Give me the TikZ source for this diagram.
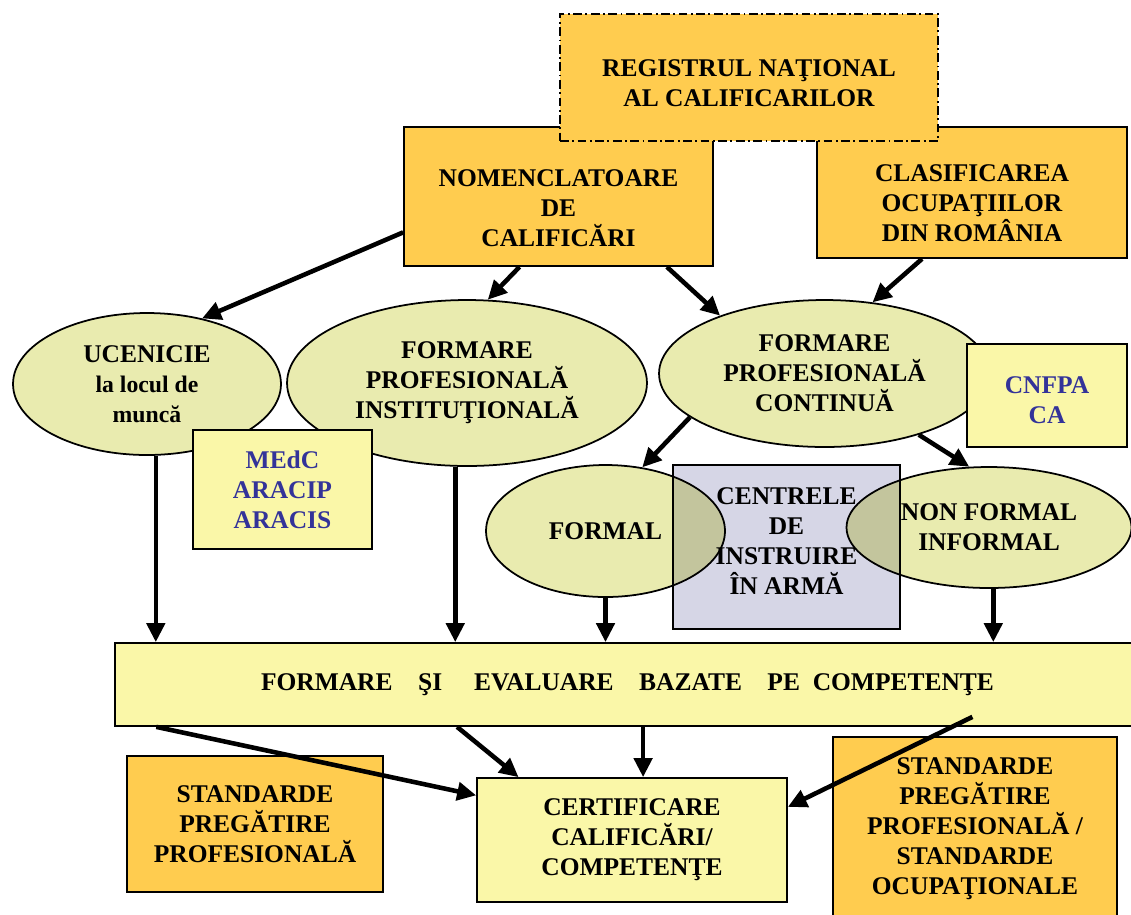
\documentclass[tikz,border=0pt]{standalone}
\usepackage{fontspec}
\setmainfont{Liberation Serif}
\usetikzlibrary{arrows.meta,shapes,calc}

\definecolor{gold}{HTML}{FFCC4F}
\definecolor{paleyel}{HTML}{FAF7A8}
\definecolor{olive}{HTML}{E9EBAF}
\definecolor{lilac}{HTML}{D6D6E6}
\definecolor{navy}{HTML}{333399}

\tikzset{
	txt/.style={align=center, font=\fontsize{14.5}{17}\selectfont\bfseries},
	box/.style={txt, draw, line width=1pt, inner sep=0pt},
	goldbox/.style={box, fill=gold},
	palebox/.style={box, fill=paleyel},
	oval/.style={box, ellipse, fill=olive},
	arr/.style={->, >={Triangle[length=0.38cm, width=0.36cm]}, line width=2.6pt},
}

\begin{document}
\begin{tikzpicture}[x=0.02cm, y=-0.02cm]
		\useasboundingbox (0,0) rectangle (1131,914);

		% top row
		\node[goldbox, minimum width=6.18cm, minimum height=2.78cm,
			label={[txt, yshift=-0.23cm]center:NOMENCLATOARE\\DE\\CALIFICĂRI}] (nom) at (558.5,196.5) {};
		\node[goldbox, minimum width=6.2cm, minimum height=2.62cm,
			label={[txt, yshift=-0.21cm]center:CLASIFICAREA\\OCUPAŢIILOR\\DIN ROMÂNIA}] (clas) at (972,192.5) {};
		\node[goldbox, dash pattern=on 5pt off 2pt on 1pt off 2pt, minimum width=7.56cm, minimum height=2.54cm,
			label={[txt, yshift=-0.12cm]center:REGISTRUL NAŢIONAL\\AL CALIFICARILOR}] (reg) at (749,77.5) {};

		% forms of training
		\node[oval, minimum width=5.36cm, minimum height=2.84cm] (ucen) at (147,384) {UCENICIE\\{\fontsize{13.5}{16}\selectfont la locul de}\\{\fontsize{13.5}{16}\selectfont muncă}};
		\node[oval, minimum width=7.2cm, minimum height=3.32cm] (inst) at (467,383) {FORMARE\\PROFESIONALĂ\\INSTITUŢIONALĂ};
		\node[oval, minimum width=6.62cm, minimum height=2.94cm] (cont) at (824.5,373.5) {FORMARE\\PROFESIONALĂ\\CONTINUĂ};
		\node[palebox, text=navy, minimum width=3.2cm, minimum height=2.06cm,
			label={[txt, text=navy, yshift=-0.1cm]center:CNFPA\\CA}] (cnfpa) at (1047,395.5) {};
		\node[palebox, text=navy, minimum width=3.58cm, minimum height=2.38cm] (medc) at (282.5,489.5) {MEdC\\ARACIP\\ARACIS};

		\node[box, fill=lilac, minimum width=4.54cm, minimum height=3.28cm,
			label={[txt, yshift=0.12cm]center:CENTRELE\\DE\\INSTRUIRE\\ÎN ARMĂ}] (centr) at (786.5,547) {};
		\node[oval, blend mode=multiply, minimum width=4.78cm, minimum height=2.64cm] (formal) at (605.5,531) {FORMAL};
		\node[oval, blend mode=multiply, minimum width=5.7cm, minimum height=2.42cm] (nonf) at (989,527.5) {NON FORMAL\\INFORMAL};

		% bottom
		\node[palebox, minimum width=20.5cm, minimum height=1.66cm] (fev) at (627.5,684.5) {FORMARE\quad ŞI\quad\ EVALUARE\quad BAZATE\quad PE\ \ COMPETENŢE};
		\node[goldbox, minimum width=5.12cm, minimum height=2.72cm] (stdl) at (255,824) {STANDARDE\\PREGĂTIRE\\PROFESIONALĂ};
		\node[goldbox, minimum width=5.68cm, minimum height=3.66cm] (stdr) at (975,828.5) {STANDARDE\\PREGĂTIRE\\PROFESIONALĂ /\\STANDARDE\\OCUPAŢIONALE};
		\node[palebox, minimum width=6.2cm, minimum height=2.48cm] (cert) at (632,840) {CERTIFICARE\\CALIFICĂRI/\\COMPETENŢE};

		% connectors
		\draw[arr] (nom.193.3) -- (ucen.50);
		\draw[arr] (nom.241) -- (inst.76);
		\draw[arr] (nom.327.4) -- (cont.151.1);
		\draw[arr] (clas.233.5) -- (cont.56.8);
		\draw[arr] (cont.198.2) -- (formal.60);
		\draw[arr] (cont.327.4) -- (nonf.108);

		\draw[arr] (ucen.-83.5) -- (ucen.-83.5 |- fev.north);
		\draw[arr] (inst.-98) -- (inst.-98 |- fev.north);
		\draw[arr] (formal.south) -- (formal.south |- fev.north);
		\draw[arr] (nonf.-86) -- (nonf.-86 |- fev.north);

		\draw[arr] ($(fev.south west)!0.041!(fev.south east)$) -- (cert.164.5);
		\draw[arr] ($(fev.south west)!0.334!(fev.south east)$) -- (cert.151.7);
		\draw[arr] (fev.south -| cert.80.8) -- (cert.80.8);
		\draw[arr] ($(fev.south west)!0.836!(fev.south east)+(0,-10)$) -- (cert.12.4);
	\end{tikzpicture}
\end{document}
